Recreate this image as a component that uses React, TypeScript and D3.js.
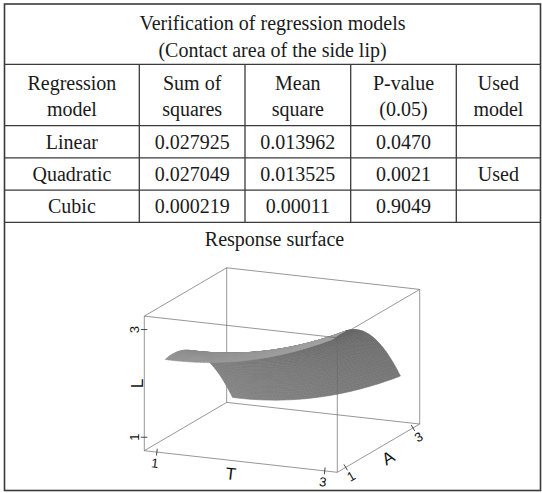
import React, { useMemo } from "react";
import * as d3 from "d3";

// ---------- table contents ----------
const titleLines = ["Verification of regression models", "(Contact area of the side lip)"];
const headerTop = ["Regression", "Sum of", "Mean", "P-value", "Used"];
const headerBottom = ["model", "squares", "square", "(0.05)", "model"];
const models = ["Linear", "Quadratic", "Cubic"];
const sumOfSquares = ["0.027925", "0.027049", "0.000219"];
const meanSquare = ["0.013962", "0.013525", "0.00011"];
const pValue = ["0.0470", "0.0021", "0.9049"];
const usedModel = ["", "Used", ""];
const plotTitle = "Response surface";

// ---------- response surface ----------
// quadratic model in coded factors x1 = T - 2, x2 = A - 2
// L = b0 + b1*x1 + b2*x2 + b11*x1^2 + b22*x2^2 + b12*x1*x2
const coefNames = ["b0", "b1", "b2", "b11", "b22", "b12"];
const coefValues = [2.286, 0.368, -0.714, 0.2, -0.457, 0.005];
const factorT = [1, 3];
const factorA = [1, 3];
const ticksT = [1, 3];
const ticksA = [1, 3];
const ticksL = [1, 3];
const axisLabels = ["T", "A", "L"];

// ---------- layout ----------
const W = 542;
const H = 493;
const colX = [4.5, 139.3, 245, 350.7, 456.3, 540.5];
const yTop = 4;
const yTitle = 64.3;
const yHeader = 125.7;
const yBody = 222.3;
const yBottom = 490.5;

const serif = "Liberation Serif";
const sans = "Liberation Sans";

// box extents in data units
const boxT: [number, number] = [0.85, 3.15];
const boxA: [number, number] = [0.75, 3.2];
const boxL: [number, number] = [0.75, 3.25];

const uS = d3.scaleLinear().domain(boxT).range([0, 1]);
const vS = d3.scaleLinear().domain(boxA).range([0, 1]);
const wS = d3.scaleLinear().domain(boxL).range([0, 1]);

// oblique view: screen vectors of the three box edges
const origin = [144.3, 450.7];
const edgeT = [193, 21.6];
const edgeA = [82.4, -48.3];
const edgeL = [0, -134.6];
// box side lengths in view space and camera frame
const sideLen = [210.6, 205.8, 139.2];
const camRight = [0.9164, 0.4004, 0];
const camUp = [-0.1026, 0.2347, 0.967];
const camToward = [0.3872, -0.8862, 0.2562];
// light weights in camera frame (right, up, toward viewer)
const lightDir = [-1.2, 0.35, 0.1];

function proj(t: number, a: number, l: number): [number, number] {
  const u = uS(t), v = vS(a), w = wS(l);
  return [
    origin[0] + u * edgeT[0] + v * edgeA[0] + w * edgeL[0],
    origin[1] + u * edgeT[1] + v * edgeA[1] + w * edgeL[1],
  ];
}
function world(t: number, a: number, l: number) {
  return [uS(t) * sideLen[0], vS(a) * sideLen[1], wS(l) * sideLen[2]];
}
const dot = (p: number[], q: number[]) => p[0] * q[0] + p[1] * q[1] + p[2] * q[2];

function modelL(t: number, a: number) {
  const x1 = t - 2, x2 = a - 2;
  const [b0, b1, b2, b11, b22, b12] = coefValues;
  return b0 + b1 * x1 + b2 * x2 + b11 * x1 * x1 + b22 * x2 * x2 + b12 * x1 * x2;
}

const grayScale = d3.scaleLinear<string>().domain([-1, 1]).range(["#565656", "#aaaaaa"]).clamp(true);

function buildSurface() {
  const n = 48;
  const ts = d3.range(n + 1).map((i) => factorT[0] + ((factorT[1] - factorT[0]) * i) / n);
  const as = d3.range(n + 1).map((j) => factorA[0] + ((factorA[1] - factorA[0]) * j) / n);
  const quads: { d: string; depth: number; fill: string }[] = [];
  const line = d3.line().curve(d3.curveLinearClosed);
  for (let i = 0; i < n; i++) {
    for (let j = 0; j < n; j++) {
      const c = [
        [ts[i], as[j]],
        [ts[i + 1], as[j]],
        [ts[i + 1], as[j + 1]],
        [ts[i], as[j + 1]],
      ].map(([t, a]) => ({ t, a, l: modelL(t, a) }));
      const P = c.map((p) => world(p.t, p.a, p.l));
      const d1 = [P[2][0] - P[0][0], P[2][1] - P[0][1], P[2][2] - P[0][2]];
      const d2 = [P[3][0] - P[1][0], P[3][1] - P[1][1], P[3][2] - P[1][2]];
      let nv = [d1[1] * d2[2] - d1[2] * d2[1], d1[2] * d2[0] - d1[0] * d2[2], d1[0] * d2[1] - d1[1] * d2[0]];
      const nl = Math.hypot(nv[0], nv[1], nv[2]);
      nv = nv.map((x) => x / nl);
      let nc = [dot(nv, camRight), dot(nv, camUp), dot(nv, camToward)];
      if (nc[2] < 0) nc = nc.map((x) => -x);
      const shade = dot(nc, lightDir);
      const cen = [0, 1, 2].map((k) => (P[0][k] + P[1][k] + P[2][k] + P[3][k]) / 4);
      quads.push({
        d: line(c.map((p) => proj(p.t, p.a, p.l))) as string,
        depth: dot(cen, camToward),
        fill: grayScale(shade),
      });
    }
  }
  quads.sort((a, b) => a.depth - b.depth);
  return quads;
}

export default function App() {
  const quads = useMemo(buildSurface, []);
  const rowScale = d3.scaleBand().domain(models).range([yHeader, yBody]);

  const corner = (i: number, j: number, k: number) => proj(boxT[i], boxA[j], boxL[k]);
  const backEdges: [number[], number[]][] = [
    [[0, 0, 0], [1, 0, 0]],
    [[0, 0, 0], [0, 1, 0]],
    [[1, 0, 0], [1, 1, 0]],
    [[0, 1, 0], [1, 1, 0]],
    [[0, 0, 0], [0, 0, 1]],
    [[0, 1, 0], [0, 1, 1]],
    [[1, 1, 0], [1, 1, 1]],
    [[0, 0, 1], [0, 1, 1]],
    [[0, 1, 1], [1, 1, 1]],
  ];
  const frontEdges: [number[], number[]][] = [
    [[1, 0, 0], [1, 0, 1]],
    [[0, 0, 1], [1, 0, 1]],
    [[1, 0, 1], [1, 1, 1]],
  ];
  const edgeLine = (e: [number[], number[]], key: string) => {
    const p = corner(e[0][0], e[0][1], e[0][2]);
    const q = corner(e[1][0], e[1][1], e[1][2]);
    return <line key={key} x1={p[0]} y1={p[1]} x2={q[0]} y2={q[1]} stroke="#6a6a6a" strokeWidth={0.7} />;
  };

  const angT = (Math.atan2(edgeT[1], edgeT[0]) * 180) / Math.PI;
  const angA = (Math.atan2(edgeA[1], edgeA[0]) * 180) / Math.PI;
  const tickLen = 3.4;
  const perp = (e: number[]) => {
    const len = Math.hypot(e[0], e[1]);
    return [-e[1] / len, e[0] / len];
  };
  const pT = perp(edgeT);
  const pA = perp(edgeA);

  const cellText = (x: number, y: number, s: string, key: string) => (
    <text key={key} x={x} y={y} textAnchor="middle" fontFamily={serif} fontSize={20} fill="#1a1a1a">
      {s}
    </text>
  );
  const colMid = (c: number) => (colX[c] + colX[c + 1]) / 2;
  const tableCols = [models, sumOfSquares, meanSquare, pValue, usedModel];

  const midT = proj(2, boxA[0], boxL[0]);
  const midA = proj(boxT[1], 2, boxL[0]);
  const midL = proj(boxT[0], boxA[0], 2);

  return (
    <svg width={W} height={H} style={{ position: "absolute", left: 0, top: 0, background: "#fff" }}>
      {/* table frame */}
      <g stroke="#3a3a3a" strokeWidth={1.3} fill="none">
        <rect x={colX[0]} y={yTop} width={colX[5] - colX[0]} height={yBottom - yTop} strokeWidth={1.6} />
        {[yTitle, yHeader, ...models.map((m) => (rowScale(m) as number) + rowScale.bandwidth())].map((y, i) => (
          <line key={"h" + i} x1={colX[0]} x2={colX[5]} y1={y} y2={y} />
        ))}
        {colX.slice(1, 5).map((x, i) => (
          <line key={"v" + i} x1={x} x2={x} y1={yTitle} y2={yBody} />
        ))}
      </g>

      {/* title */}
      {titleLines.map((s, i) => cellText((colX[0] + colX[5]) / 2, 30 + i * 27, s, "t" + i))}
      {/* header */}
      {headerTop.map((s, c) => cellText(colMid(c), 89.5, s, "ht" + c))}
      {headerBottom.map((s, c) => cellText(colMid(c), 116.3, s, "hb" + c))}
      {/* body */}
      {models.map((m, r) =>
        tableCols.map((col, c) =>
          cellText(colMid(c), (rowScale(m) as number) + rowScale.bandwidth() / 2 + 6.8, col[r], `b${r}-${c}`)
        )
      )}

      {/* response surface */}
      {cellText((colX[0] + colX[5]) / 2 + 2, 246, plotTitle, "ptitle")}
      <g>{backEdges.map((e, i) => edgeLine(e, "be" + i))}</g>
      <g>
        {quads.map((q, i) => (
          <path key={i} d={q.d} fill={q.fill} stroke={q.fill} strokeWidth={0.6} strokeLinejoin="round" />
        ))}
      </g>
      <g>{frontEdges.map((e, i) => edgeLine(e, "fe" + i))}</g>

      {/* T axis */}
      {ticksT.map((t) => {
        const p = proj(t, boxA[0], boxL[0]);
        return (
          <g key={"tt" + t}>
            <line x1={p[0] - pT[0] * tickLen} y1={p[1] - pT[1] * tickLen} x2={p[0] + pT[0] * tickLen} y2={p[1] + pT[1] * tickLen} stroke="#333" strokeWidth={0.9} />
            <text transform={`translate(${p[0] - 2},${p[1] + 11}) rotate(${angT})`} textAnchor="middle" dominantBaseline="central" fontFamily={sans} fontSize={13} fill="#111">
              {t}
            </text>
          </g>
        );
      })}
      <text transform={`translate(${midT[0] - 10},${midT[1] + 12.5}) rotate(${angT})`} textAnchor="middle" dominantBaseline="central" fontFamily={sans} fontSize={17} fill="#111">
        {axisLabels[0]}
      </text>

      {/* A axis */}
      {ticksA.map((a) => {
        const p = proj(boxT[1], a, boxL[0]);
        return (
          <g key={"ta" + a}>
            <line x1={p[0] - pA[0] * tickLen} y1={p[1] - pA[1] * tickLen} x2={p[0] + pA[0] * tickLen} y2={p[1] + pA[1] * tickLen} stroke="#333" strokeWidth={0.9} />
            <text transform={`translate(${p[0] + 5.5},${p[1] + 9}) rotate(${angA})`} textAnchor="middle" dominantBaseline="central" fontFamily={sans} fontSize={13} fill="#111">
              {a}
            </text>
          </g>
        );
      })}
      <text transform={`translate(${midA[0] + 9},${midA[1] + 10.5}) rotate(${angA})`} textAnchor="middle" dominantBaseline="central" fontFamily={sans} fontSize={17} fill="#111">
        {axisLabels[1]}
      </text>

      {/* L axis */}
      {ticksL.map((l) => {
        const p = proj(boxT[0], boxA[0], l);
        return (
          <g key={"tl" + l}>
            <line x1={p[0] - 3.5} y1={p[1]} x2={p[0] + 3} y2={p[1]} stroke="#333" strokeWidth={0.9} />
            <text transform={`translate(${p[0] - 10},${p[1]}) rotate(-90)`} textAnchor="middle" dominantBaseline="central" fontFamily={sans} fontSize={13} fill="#111">
              {l}
            </text>
          </g>
        );
      })}
      <text transform={`translate(${midL[0] - 7},${midL[1]}) rotate(-90)`} textAnchor="middle" dominantBaseline="central" fontFamily={sans} fontSize={17} fill="#111">
        {axisLabels[2]}
      </text>
    </svg>
  );
}
